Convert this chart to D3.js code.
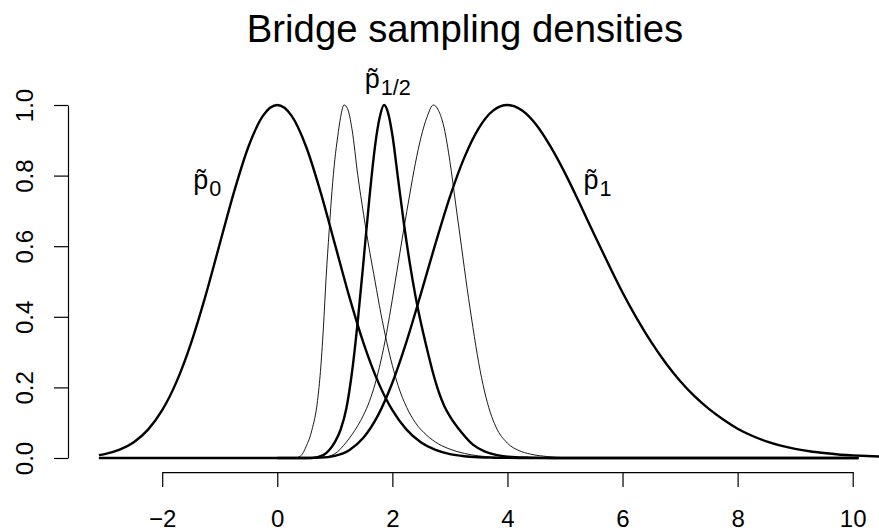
<!DOCTYPE html>
<html><head><meta charset="utf-8">
<script src="https://cdn.jsdelivr.net/npm/d3@7"></script>
<style>body{margin:0;background:#fff} text{font-family:"Liberation Sans",Arial,Helvetica,sans-serif;fill:#000}</style>
</head><body><svg id="c" width="879" height="531"></svg>
<script>
// ---- data ----
const xTicks = [-2, 0, 2, 4, 6, 8, 10];
const yTicks = [0, 0.2, 0.4, 0.6, 0.8, 1.0];

// p~0 (thick)
const p0X = [-3.1,-3,-2.75,-2.5,-2.25,-2,-1.75,-1.5,-1.25,-1,-0.75,-0.5,-0.25,0,0.25,0.5,0.75,1,1.25,1.5,1.75,2,2.25,2.5,2.75,3,3.25,3.5,3.75,4,4.5,10.1];
const p0Y = [0.0082,0.0111,0.0228,0.0439,0.0796,0.1353,0.2163,0.3247,0.4578,0.6065,0.7548,0.8825,0.9692,1,0.9692,0.8825,0.7548,0.6065,0.4578,0.3247,0.2163,0.1353,0.0796,0.0439,0.0228,0.0111,0.0051,0.0022,0.0009,0.0003,0,0];

// p~1 (thick)
const p1X = [-3.1,0,0.5,0.75,1,1.25,1.5,1.75,2,2.25,2.5,2.75,3,3.25,3.5,3.75,4,4.25,4.5,4.75,5,5.25,5.5,5.75,6,6.25,6.5,6.75,7,7.25,7.5,7.75,8,8.25,8.5,8.75,9,9.25,9.5,9.75,10,10.25,10.5];
const p1Y = [0,0,0.0001,0.001,0.0062,0.0222,0.0581,0.1208,0.2133,0.3318,0.4677,0.608,0.74,0.851,0.934,0.984,1,0.985,0.944,0.882,0.807,0.723,0.636,0.551,0.469,0.395,0.328,0.269,0.218,0.175,0.139,0.109,0.083,0.063,0.047,0.035,0.026,0.019,0.014,0.010,0.0075,0.0055,0.004];

// bridge density, thin, left
const b1X = [0,0.3,0.4,0.5,0.6,0.7,0.75,0.8,0.85,0.9,0.95,1.0,1.05,1.1,1.16,1.22,1.3,1.4,1.5,1.6,1.7,1.8,1.9,2.0,2.1,2.25,2.4,2.6,2.8,3.0,3.25,3.5,4.0,4.5,10.1];
const b1Y = [0,0,0.005,0.032,0.078,0.163,0.245,0.365,0.515,0.64,0.755,0.845,0.91,0.965,1.0,0.99,0.93,0.80,0.69,0.59,0.50,0.41,0.33,0.262,0.205,0.143,0.10,0.064,0.040,0.025,0.013,0.006,0.001,0,0];

// p~1/2 (thick, middle)
const b2X = [0,0.6,0.8,0.9,1.0,1.1,1.2,1.3,1.4,1.5,1.6,1.7,1.78,1.855,1.93,2.0,2.1,2.2,2.3,2.4,2.5,2.6,2.7,2.8,2.9,3.0,3.2,3.4,3.6,3.8,4.0,4.4,4.8,10.1];
const b2Y = [0,0,0.008,0.022,0.045,0.08,0.14,0.245,0.39,0.56,0.735,0.885,0.965,1.0,0.975,0.915,0.79,0.665,0.555,0.46,0.38,0.31,0.245,0.19,0.148,0.118,0.073,0.038,0.019,0.009,0.004,0.001,0,0];

// bridge density, thin, right
const b3X = [0,0.6,0.8,1.0,1.2,1.4,1.5,1.6,1.7,1.8,1.9,2.0,2.1,2.2,2.3,2.4,2.5,2.6,2.712,2.8,2.9,3.0,3.1,3.2,3.3,3.4,3.5,3.6,3.7,3.8,4.0,4.2,4.4,4.7,5.0,10.1];
const b3Y = [0,0,0.002,0.012,0.045,0.092,0.122,0.16,0.21,0.275,0.355,0.45,0.55,0.65,0.745,0.835,0.91,0.965,1.0,0.985,0.935,0.84,0.72,0.60,0.48,0.37,0.27,0.19,0.13,0.088,0.042,0.021,0.011,0.004,0.001,0];

// curve labels: subscript text and anchor in data coordinates
const labelSubs = ["0", "1", "1/2"];
const labelX = [-1.46, 5.32, 1.52];
const labelY = [0.762, 0.762, 1.047];

// ---- drawing ----
const W = 879, H = 531;
const svg = d3.select("#c");
svg.append("rect").attr("width", W).attr("height", H).attr("fill", "#fff");

const x = d3.scaleLinear().domain([-2, 10]).range([162.2, 852.7]);
const y = d3.scaleLinear().domain([0, 1]).range([458, 105]);

svg.append("defs").append("clipPath").attr("id", "plotclip")
  .append("rect").attr("x", x(-3.637)).attr("y", y(1.04)).attr("width", x(10.62) - x(-3.637)).attr("height", y(-0.04) - y(1.04));

const line = d3.line().x(d => x(d[0])).y(d => y(d[1])).curve(d3.curveMonotoneX);
const curves = [
  {xs: p1X, ys: p1Y, w: 2.4},
  {xs: p0X, ys: p0Y, w: 2.4},
  {xs: b1X, ys: b1Y, w: 0.9},
  {xs: b3X, ys: b3Y, w: 0.9},
  {xs: b2X, ys: b2Y, w: 2.4}
];
const gc = svg.append("g").attr("clip-path", "url(#plotclip)");
curves.forEach(c => {
  gc.append("path")
    .datum(c.xs.map((v, i) => [v, c.ys[i]]))
    .attr("d", line)
    .attr("fill", "none")
    .attr("stroke", "#000")
    .attr("stroke-width", c.w)
    .attr("stroke-linejoin", "round");
});

// x axis
const gx = svg.append("g").attr("transform", `translate(0,${y(-0.04)})`)
  .call(d3.axisBottom(x).tickValues(xTicks).tickSize(15).tickSizeOuter(0)
    .tickFormat(d => d < 0 ? "\u2212" + Math.abs(d) : String(d)));
gx.select(".domain").attr("stroke", "#000").attr("stroke-width", 1.2);
gx.selectAll(".tick line").attr("stroke", "#000").attr("stroke-width", 1.2);
gx.selectAll(".tick text").attr("y", 55).attr("dy", null)
  .attr("font-size", 24).attr("font-family", "Liberation Sans, Arial, sans-serif").attr("fill", "#000");

// y axis
const gy = svg.append("g").attr("transform", `translate(${x(-3.637)},0)`)
  .call(d3.axisLeft(y).tickValues(yTicks).tickSize(14).tickSizeOuter(0)
    .tickFormat(d3.format(".1f")));
gy.select(".domain").attr("stroke", "#000").attr("stroke-width", 1.2);
gy.selectAll(".tick line").attr("stroke", "#000").attr("stroke-width", 1.2);
gy.selectAll(".tick text")
  .attr("transform", "rotate(-90)")
  .attr("x", 0).attr("y", -35).attr("dy", null)
  .attr("text-anchor", "middle")
  .attr("font-size", 24).attr("font-family", "Liberation Sans, Arial, sans-serif").attr("fill", "#000");

// title
svg.append("text").attr("x", 465).attr("y", 42).attr("text-anchor", "middle")
  .attr("font-size", 38.3).text("Bridge sampling densities");

// curve labels: p with combining tilde, then the subscript
const F = 27;
labelSubs.forEach((sub, i) => {
  const L = x(labelX[i]), B = y(labelY[i]);
  const t = svg.append("text").attr("class", "curve-label").attr("x", L).attr("y", B).attr("font-size", F);
  t.append("tspan").text("p\u0303");
  t.append("tspan").attr("dx", 1).attr("dy", 0.25 * F).attr("font-size", F * 0.8).text(sub);
});
</script></body></html>
